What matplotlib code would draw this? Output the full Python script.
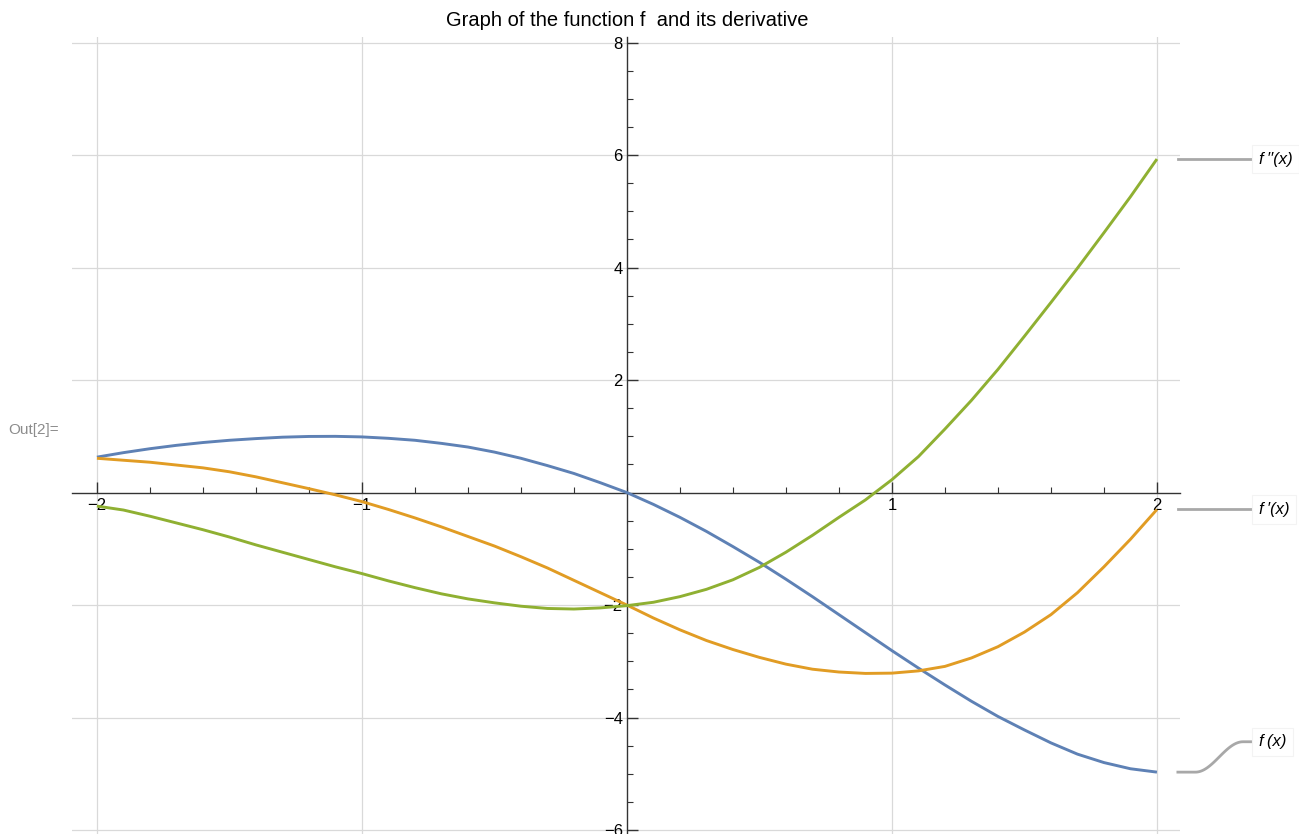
import numpy as np
import matplotlib.pyplot as plt

plt.rcParams['font.family'] = ['Liberation Sans', 'DejaVu Sans']

# values, every 0.1 in x
x_vals = [-2.0, -1.9, -1.8, -1.7, -1.6, -1.5, -1.4, -1.3, -1.2, -1.1, -1.0,
          -0.9, -0.8, -0.7, -0.6, -0.5, -0.4, -0.3, -0.2, -0.1, 0.0,
          0.1, 0.2, 0.3, 0.4, 0.5, 0.6, 0.7, 0.8, 0.9, 1.0,
          1.1, 1.2, 1.3, 1.4, 1.5, 1.6, 1.7, 1.8, 1.9, 2.0]
f_vals = [0.63, 0.71, 0.78, 0.84, 0.89, 0.93, 0.96, 0.985, 0.998, 1.0, 0.99,
          0.965, 0.93, 0.875, 0.81, 0.72, 0.61, 0.48, 0.34, 0.175, 0.0,
          -0.21, -0.44, -0.69, -0.96, -1.24, -1.54, -1.85, -2.17, -2.49, -2.81,
          -3.12, -3.42, -3.71, -3.98, -4.22, -4.45, -4.65, -4.80, -4.91, -4.97]
fp_vals = [0.61, 0.575, 0.54, 0.49, 0.44, 0.37, 0.28, 0.175, 0.07, -0.04, -0.16,
           -0.30, -0.45, -0.61, -0.78, -0.95, -1.14, -1.34, -1.56, -1.78, -2.0,
           -2.23, -2.44, -2.63, -2.79, -2.93, -3.05, -3.14, -3.19, -3.215, -3.21,
           -3.17, -3.09, -2.94, -2.74, -2.48, -2.17, -1.78, -1.32, -0.83, -0.30]
fpp_vals = [-0.24, -0.31, -0.42, -0.54, -0.66, -0.79, -0.93, -1.06, -1.19, -1.32, -1.44,
            -1.57, -1.69, -1.80, -1.89, -1.96, -2.02, -2.06, -2.07, -2.05, -2.01,
            -1.95, -1.85, -1.72, -1.55, -1.33, -1.06, -0.76, -0.44, -0.13, 0.23,
            0.64, 1.13, 1.64, 2.19, 2.78, 3.38, 3.99, 4.62, 5.26, 5.93]

labels = ["f\u2009(x)", "f\u2009\u2032(x)", "f\u2009\u2032\u2032(x)"]
colores = ["#5E81B5", "#E19C24", "#8FB032"]

x_ticks = [-2, -1, 1, 2]
y_ticks = [-6, -4, -2, 2, 4, 6, 8]

fig = plt.figure(figsize=(12.99, 8.34), dpi=100)
ax = fig.add_axes([72/1299, 0.0, (1180-72)/1299, (834-37)/834])
ax.set_xlim(-2.094, 2.087)
ax.set_ylim(-6.07, 8.1)

# grid
for gx in x_ticks:
    ax.axvline(gx, color="#D9D9D9", lw=0.9, zorder=0)
for gy in y_ticks:
    ax.axhline(gy, color="#D9D9D9", lw=0.9, zorder=0)

series = [f_vals, fp_vals, fpp_vals]
for ys, c in zip(series, colores):
    ax.plot(x_vals, ys, color=c, lw=2.1, solid_capstyle="butt",
            solid_joinstyle="round", zorder=3)

# axes crossing at origin
for s in ["top", "right"]:
    ax.spines[s].set_visible(False)
for s in ["left", "bottom"]:
    ax.spines[s].set_position(("data", 0))
    ax.spines[s].set_color("#333333")
    ax.spines[s].set_linewidth(1.0)

ax.set_xticks(x_ticks)
ax.set_xticklabels(["\u22122", "\u22121", "1", "2"])
ax.set_xticks(np.arange(-2.0, 2.01, 0.2), minor=True)
ax.set_yticks(y_ticks)
ax.set_yticklabels(["\u22126", "\u22124", "\u22122", "2", "4", "6", "8"])
ax.set_yticks(np.arange(-6.0, 8.01, 0.5), minor=True)
ax.tick_params(which="major", direction="in", length=8, width=1.0, color="#333333",
               labelsize=12)
ax.tick_params(axis="x", which="major", pad=4)
ax.tick_params(axis="y", which="major", pad=3)
ax.tick_params(which="minor", direction="in", length=4.5, width=0.8, color="#333333")

# leader lines and labels on the right
x0, x1, xt = 2.079, 2.37, 2.385
ends = [f_vals[-1], fp_vals[-1], fpp_vals[-1]]
label_y = [ends[0] + 0.54, ends[1], ends[2]]
for i in range(3):
    if abs(label_y[i] - ends[i]) > 0.01:
        xs = np.linspace(x0, x1, 60)
        t = np.clip((xs - 2.145) / (2.325 - 2.145), 0, 1)
        ys = ends[i] + (label_y[i] - ends[i]) * (1 - np.cos(np.pi * t)) / 2
    else:
        xs = [x0, x1]
        ys = [ends[i], ends[i]]
    ax.plot(xs, ys, color="#A8A8A8", lw=2.0, clip_on=False, zorder=2)
    ax.text(xt, label_y[i], labels[i], fontsize=12, style="italic", va="center",
            ha="left", clip_on=False,
            bbox=dict(boxstyle="square,pad=0.4", fc="white", ec="#F3F3F3", lw=0.8))

fig.text(627/1299, 1 - 20/834, "Graph of the function f  and its derivative",
         ha="center", va="center", fontsize=14.5)
fig.text(8/1299, 1 - 430/834, "Out[2]=", ha="left", va="center", fontsize=11,
         color="#8C8C8C")

fig.savefig("out.png", dpi=100)
